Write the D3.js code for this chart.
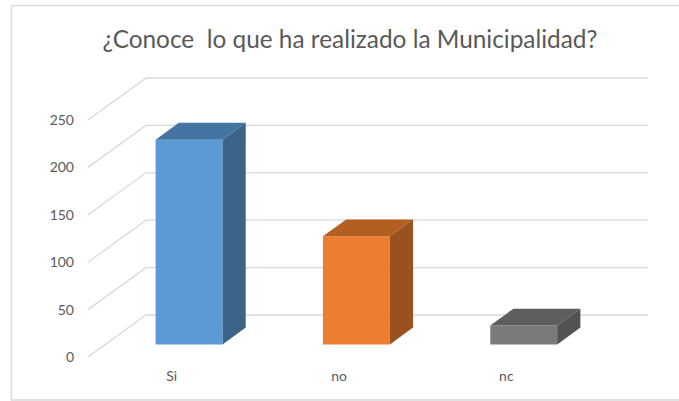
<!DOCTYPE html>
<html>
<head>
<meta charset="utf-8">
<script src="https://cdn.jsdelivr.net/npm/d3@7"></script>
<style>
  body { margin: 0; background: #fff; }
  text { font-family: Lato, "Open Sans", sans-serif; fill: #595959; }
</style>
</head>
<body>
<svg id="chart" width="679" height="401"></svg>
<script>
(function () {
    var width = 679, height = 401;

    // data
    var categories = ["Si", "no", "nc"];
    var values = [216, 114, 20];
    var yTicks = [0, 50, 100, 150, 200, 250];
    var titleText = "¿Conoce  lo que ha realizado la Municipalidad?";

    // colours per bar: front, top, side
    var fronts = ["#5b9bd5", "#ed7d31", "#7b7b7b"];
    var tops = ["#4475a2", "#b45f22", "#5e5e5e"];
    var sides = ["#3a6488", "#9a5120", "#525252"];

    var svg = d3.select("#chart");

    // outer border
    svg.append("rect")
        .attr("x", 11.5).attr("y", 5.5)
        .attr("width", 680).attr("height", 394.5)
        .attr("fill", "none")
        .attr("stroke", "#d9d9d9")
        .attr("stroke-width", 1.5);

    // title, fitted to the width seen in the reference (keep the double space)
    var title = svg.append("text")
        .attr("x", 350).attr("y", 48)
        .attr("text-anchor", "middle")
        .style("white-space", "pre")
        .style("font-size", "21px")
        .text(titleText);
    var tw = title.node().getComputedTextLength();
    title.style("font-size", (21 * 495 / tw) + "px");

    // front plane scales
    var x = d3.scaleBand()
        .domain(categories)
        .range([88, 590]);

    var y = d3.scaleLinear()
        .domain([0, 250])
        .range([357, 120]);

    // depth (0 = front, 1 = back wall)
    var dx = d3.scaleLinear().domain([0, 1]).range([0, 58]);
    var dy = d3.scaleLinear().domain([0, 1]).range([0, -42]);

    function pt(px, v, z) { return [px + dx(z), y(v) + dy(z)]; }

    var grid = svg.append("g")
        .attr("stroke", "#d9d9d9")
        .attr("stroke-width", 1.3)
        .attr("fill", "none");

    // side wall + back wall gridlines
    grid.selectAll("path")
        .data(yTicks)
        .join("path")
        .attr("d", function (t) {
            var a = pt(88, t, 0), b = pt(88, t, 1), c = pt(590, t, 1);
            return d3.line()([a, b, c]);
        });

    // y labels
    svg.append("g")
        .selectAll("text")
        .data(yTicks)
        .join("text")
        .attr("x", 74)
        .attr("y", function (t) { return y(t); })
        .attr("dy", "0.35em")
        .attr("text-anchor", "end")
        .style("font-size", "14px")
        .text(function (t) { return t; });

    // x labels
    svg.append("g")
        .selectAll("text")
        .data(categories)
        .join("text")
        .attr("x", function (c) { return x(c) + x.bandwidth() / 2; })
        .attr("y", 376)
        .attr("dy", "0.35em")
        .attr("text-anchor", "middle")
        .style("font-size", "14px")
        .text(function (c) { return c; });

    // 3d bars
    var z0 = 0.3, z1 = 0.7;
    var bw = x.bandwidth() * 0.4;
    var line = d3.line();

    var bars = svg.append("g")
        .selectAll("g")
        .data(categories)
        .join("g");

    bars.each(function (c, i) {
        var g = d3.select(this);
        var l = x(c) + (x.bandwidth() - bw) / 2, r = l + bw;
        var v = values[i];
        // front
        g.append("path")
            .attr("fill", fronts[i])
            .attr("d", line([pt(l, 0, z0), pt(r, 0, z0), pt(r, v, z0), pt(l, v, z0)]) + "Z");
        // top
        g.append("path")
            .attr("fill", tops[i])
            .attr("d", line([pt(l, v, z0), pt(r, v, z0), pt(r, v, z1), pt(l, v, z1)]) + "Z");
        // side
        g.append("path")
            .attr("fill", sides[i])
            .attr("d", line([pt(r, 0, z0), pt(r, 0, z1), pt(r, v, z1), pt(r, v, z0)]) + "Z");
    });
})();
</script>
</body>
</html>
